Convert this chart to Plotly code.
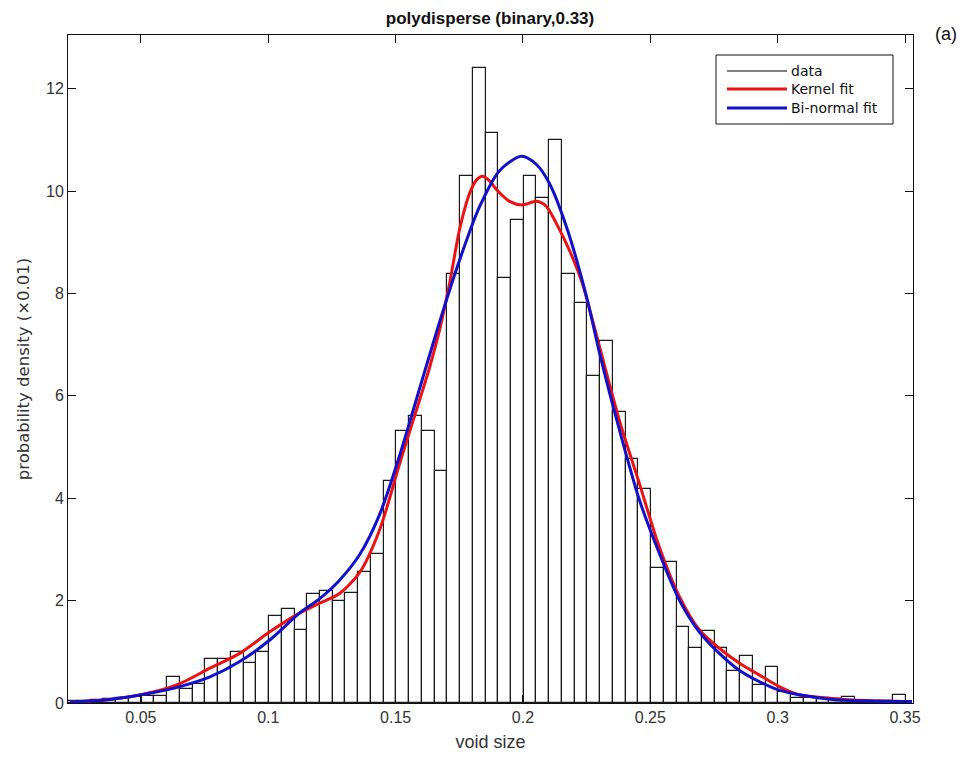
import plotly.graph_objects as go

# ---------------- data ----------------
bin_width = 0.005
bin_centers = [
    0.0228, 0.0278, 0.0328, 0.0378, 0.0428, 0.0478, 0.0528, 0.0578, 0.0628, 0.0678,
    0.0728, 0.0778, 0.0828, 0.0878, 0.0928, 0.0978, 0.1028, 0.1078, 0.1128, 0.1178,
    0.1228, 0.1278, 0.1328, 0.1378, 0.1428, 0.1478, 0.1528, 0.1578, 0.1628, 0.1678,
    0.1728, 0.1778, 0.1828, 0.1878, 0.1928, 0.1978, 0.2028, 0.2078, 0.2128, 0.2178,
    0.2228, 0.2278, 0.2328, 0.2378, 0.2428, 0.2478, 0.2528, 0.2578, 0.2628, 0.2678,
    0.2728, 0.2778, 0.2828, 0.2878, 0.2928, 0.2978, 0.3028, 0.3078, 0.3128, 0.3178,
    0.3228, 0.3278, 0.3328, 0.3378, 0.3428, 0.3478,
]
density = [
    0.03, 0.04, 0.06, 0.08, 0.09, 0.12, 0.14, 0.14, 0.51, 0.28,
    0.37, 0.85, 0.85, 0.99, 0.78, 1.00, 1.70, 1.84, 1.43, 2.12,
    2.19, 1.99, 2.14, 2.55, 2.91, 4.33, 5.32, 5.60, 5.32, 4.53,
    8.38, 10.29, 12.40, 11.13, 8.30, 9.44, 10.29, 9.86, 11.00, 8.38,
    7.81, 6.38, 7.08, 5.68, 4.76, 4.19, 2.63, 2.76, 1.49, 1.08,
    1.41, 1.07, 0.63, 0.92, 0.36, 0.70, 0.22, 0.09, 0.09, 0.09,
    0.07, 0.12, 0.04, 0.03, 0.03, 0.15,
]

kernel_x = [0.0222, 0.0378, 0.0535, 0.0653, 0.0771, 0.0888, 0.1006, 0.1124, 0.1202,
            0.1280, 0.1359, 0.1437, 0.1516, 0.1555, 0.1633, 0.1673, 0.1712, 0.1751,
            0.1790, 0.1818, 0.1841, 0.1869, 0.1896, 0.1947, 0.1998, 0.2053, 0.2092,
            0.2131, 0.2182, 0.2233, 0.2273, 0.2378, 0.2457, 0.2535, 0.2614, 0.2692,
            0.2771, 0.2849, 0.2927, 0.3006, 0.3084, 0.3214, 0.3347, 0.3527]
kernel_y = [0.02, 0.07, 0.20, 0.38, 0.68, 0.97, 1.39, 1.76, 1.95,
            2.14, 2.55, 3.38, 4.68, 5.30, 6.55, 7.30, 8.20, 9.25,
            9.95, 10.22, 10.29, 10.20, 10.03, 9.80, 9.73, 9.80, 9.70,
            9.37, 8.85, 8.20, 7.48, 5.53, 4.29, 3.05, 2.08, 1.43,
            1.07, 0.78, 0.55, 0.32, 0.16, 0.09, 0.05, 0.03]

binormal_x = [0.0222, 0.0378, 0.0535, 0.0653, 0.0771, 0.0888, 0.1006, 0.1124, 0.1202,
              0.1280, 0.1359, 0.1437, 0.1516, 0.1594, 0.1673, 0.1751, 0.1830, 0.1908,
              0.1994, 0.2053, 0.2104, 0.2171, 0.2249, 0.2300, 0.2378, 0.2457,
              0.2535, 0.2614, 0.2692, 0.2771, 0.2849, 0.2927, 0.3006, 0.3084, 0.3214,
              0.3347, 0.3527]
binormal_y = [0.02, 0.07, 0.19, 0.32, 0.51, 0.81, 1.23, 1.76, 2.04,
              2.40, 2.90, 3.68, 4.84, 6.14, 7.45, 8.65, 9.70, 10.40,
              10.68, 10.52, 10.15, 9.30, 7.95, 6.85, 5.35, 3.97,
              2.93, 2.01, 1.39, 0.97, 0.64, 0.42, 0.25, 0.16, 0.07,
              0.04, 0.03]

x_ticks = [0.05, 0.1, 0.15, 0.2, 0.25, 0.3, 0.35]
x_tick_labels = ["0.05", "0.1", "0.15", "0.2", "0.25", "0.3", "0.35"]
y_ticks = [0, 2, 4, 6, 8, 10, 12]
legend_names = ["data", "Kernel fit", "Bi-normal fit"]
legend_colors = ["#000000", "#ee1111", "#1111cc"]

# ---------------- layout geometry ----------------
W, H = 965, 761
L, R, T, B = 68, 913, 35, 703


def px(xp):
    return (xp - L) / (R - L)


def py(yp):
    return (B - yp) / (B - T)


FONT = "Liberation Sans, Arial, sans-serif"
WIDE = "DejaVu Sans, Verdana, sans-serif"
TXT = "#333333"

fig = go.Figure()
fig.add_trace(go.Bar(
    x=bin_centers, y=density, width=bin_width,
    marker=dict(color="white", line=dict(color="#1a1a1a", width=1.2)),
    showlegend=False, hoverinfo="skip",
))
fig.add_trace(go.Scatter(
    x=kernel_x, y=kernel_y, mode="lines",
    line=dict(color=legend_colors[1], width=3, shape="spline", smoothing=0.8),
    showlegend=False,
))
fig.add_trace(go.Scatter(
    x=binormal_x, y=binormal_y, mode="lines",
    line=dict(color=legend_colors[2], width=3, shape="spline", smoothing=0.8),
    showlegend=False,
))

shapes = []
annotations = []
# manual MATLAB-style legend
shapes.append(dict(type="rect", xref="paper", yref="paper",
                   x0=px(716), x1=px(893), y0=py(124), y1=py(55),
                   line=dict(color="#111111", width=1), fillcolor="white", layer="above"))
rows = [71, 89, 108]
widths = [1.2, 3, 3]
for name, color, yy, lw in zip(legend_names, legend_colors, rows, widths):
    shapes.append(dict(type="line", xref="paper", yref="paper",
                       x0=px(727), x1=px(787), y0=py(yy), y1=py(yy),
                       line=dict(color=color, width=lw), layer="above"))
    annotations.append(dict(text=name, xref="paper", yref="paper", x=px(789), y=py(yy),
                            xanchor="left", yanchor="middle", showarrow=False,
                            font=dict(family=WIDE, size=14, color="#111111")))

annotations.append(dict(text="(a)", xref="paper", yref="paper", x=px(946), y=py(34),
                        xanchor="center", yanchor="middle", showarrow=False,
                        font=dict(family=FONT, size=18, color="#111111")))

fig.update_layout(
    width=W, height=H,
    margin=dict(l=L, r=W - R, t=T, b=H - B, pad=0),
    paper_bgcolor="white", plot_bgcolor="white",
    bargap=0,
    title=dict(text="<b>polydisperse (binary,0.33)</b>", x=px(490), xref="paper", xanchor="center",
               y=1 - 18 / H, yref="container", yanchor="middle",
               font=dict(family=FONT, size=17, color="#111111")),
    shapes=shapes, annotations=annotations,
    showlegend=False,
    font=dict(family=FONT),
)
fig.update_xaxes(
    range=[0.02137, 0.35314], tickvals=x_ticks, ticktext=x_tick_labels,
    ticks="inside", ticklen=8, tickcolor="#111111", mirror="ticks",
    showline=True, linecolor="#111111", linewidth=1, showgrid=False, zeroline=False,
    tickfont=dict(family=FONT, size=16, color=TXT),
    title=dict(text="void size", font=dict(family=FONT, size=18, color=TXT), standoff=10),
)
fig.update_yaxes(
    range=[0, 13.05], tickvals=y_ticks,
    ticks="inside", ticklen=8, tickcolor="#111111", mirror="ticks",
    showline=True, linecolor="#111111", linewidth=1, showgrid=False, zeroline=False,
    tickfont=dict(family=FONT, size=16, color=TXT),
    title=dict(text="probability density (×0.01)", font=dict(family=WIDE, size=16.5, color=TXT), standoff=12),
)

fig.write_html("out.html")
